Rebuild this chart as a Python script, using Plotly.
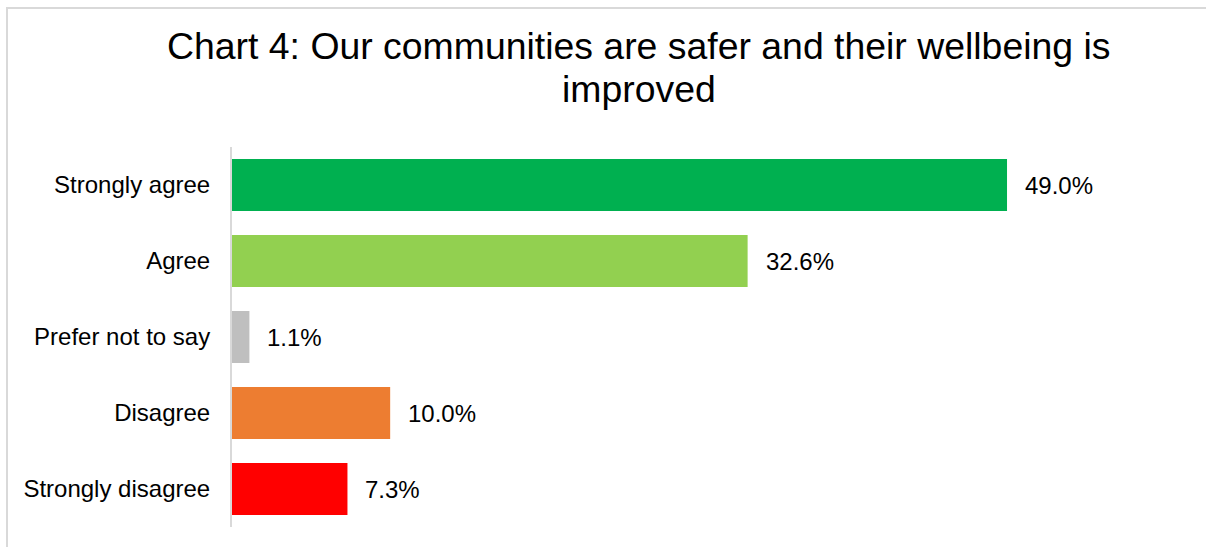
import plotly.graph_objects as go

# Survey responses, top to bottom
categories = ["Strongly agree", "Agree", "Prefer not to say", "Disagree", "Strongly disagree"]
percentages = [49.0, 32.6, 1.1, 10.0, 7.3]
bar_colors = ["#00B050", "#92D050", "#BFBFBF", "#ED7D31", "#FF0000"]
title_lines = ["Chart 4: Our communities are safer and their wellbeing is", "improved"]

W, H = 1206, 547
ML, MR, MT, MB = 232, 25, 147, 20
FONT = "Liberation Sans, Arial, sans-serif"

fig = go.Figure(
    go.Bar(
        x=percentages,
        y=categories,
        orientation="h",
        marker=dict(color=bar_colors, line=dict(width=0)),
        hoverinfo="skip",
    )
)

# Value labels to the right of each bar
for cat, val in zip(categories, percentages):
    fig.add_annotation(
        x=val, y=cat, xref="x", yref="y",
        text=f"{val:.1f}%", showarrow=False,
        xanchor="left", yanchor="middle", xshift=16,
        font=dict(family=FONT, size=24, color="#000000"),
    )

plot_w = W - ML - MR
plot_h = H - MT - MB
def px_to_paper_x(px):
    return (px - ML) / plot_w
def px_to_paper_y(py):
    return 1 - (py - MT) / plot_h

# Two-line chart title, centred above the bars
for line, mid_y in zip(title_lines, [46, 89]):
    fig.add_annotation(
        x=px_to_paper_x(639), y=px_to_paper_y(mid_y), xref="paper", yref="paper",
        text=line, showarrow=False, xanchor="center", yanchor="middle",
        font=dict(family=FONT, size=37.4, color="#000000"),
    )

# Light grey frame around the chart area
fig.add_shape(
    type="rect", xref="paper", yref="paper",
    x0=px_to_paper_x(7), x1=px_to_paper_x(W + 20),
    y0=px_to_paper_y(H + 20), y1=px_to_paper_y(8),
    line=dict(color="#D9D9D9", width=2), fillcolor="rgba(0,0,0,0)",
    layer="below",
)

fig.update_layout(
    width=W, height=H,
    margin=dict(l=ML, r=MR, t=MT, b=MB, pad=0),
    paper_bgcolor="white", plot_bgcolor="white",
    showlegend=False,
    bargap=0.316,
    font=dict(family=FONT, color="#000000"),
    xaxis=dict(
        range=[0, 60], showgrid=False, zeroline=False,
        showline=False, showticklabels=False, ticks="",
        fixedrange=True,
    ),
    yaxis=dict(
        categoryorder="array", categoryarray=categories,
        autorange="reversed",
        showgrid=False, zeroline=False,
        showline=True, linecolor="#D9D9D9", linewidth=2,
        ticks="", ticklabelstandoff=15,
        tickfont=dict(family=FONT, size=24, color="#000000"),
        fixedrange=True,
    ),
)

fig.write_html("out.html")
